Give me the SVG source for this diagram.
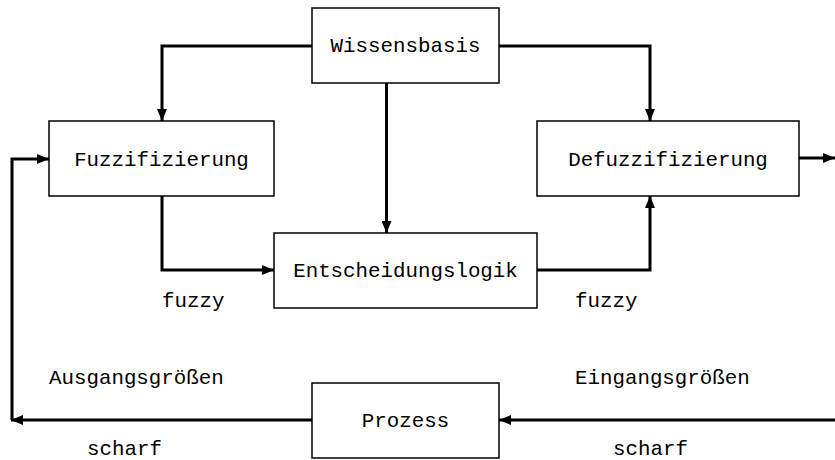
<svg xmlns="http://www.w3.org/2000/svg" width="835" height="460" viewBox="0 0 835 460">
<style>
.box{fill:#fff;stroke:#000;stroke-width:1.5}
.t{font-family:"Liberation Mono","Courier New",monospace;font-size:20.8px;fill:#000}
.m{text-anchor:middle}
.c{fill:none;stroke:#000;stroke-width:3;stroke-linejoin:miter}
</style>
<defs>
<marker id="ah" markerWidth="12" markerHeight="10" refX="12" refY="5" orient="auto" markerUnits="userSpaceOnUse">
<path d="M0,0 L12,5 L0,10 Z" fill="#000"/>
</marker>
</defs>
<g id="connectors">
<path class="c" d="M312,46 H162 V121" marker-end="url(#ah)"/>
<path class="c" d="M499,46 H650 V121" marker-end="url(#ah)"/>
<path class="c" d="M386.5,83 V233" marker-end="url(#ah)"/>
<path class="c" d="M162,196 V270 H274" marker-end="url(#ah)"/>
<path class="c" d="M537,270 H650 V196" marker-end="url(#ah)"/>
<path class="c" d="M799,158 H835" marker-end="url(#ah)"/>
<path class="c" d="M312,420 H11"  marker-end="url(#ah)"/>
<path class="c" d="M12,420 V159 H49" marker-end="url(#ah)"/>
<path class="c" d="M835,420 H499" marker-end="url(#ah)"/>
</g>
<g id="wissensbasis"><rect class="box" x="312" y="8" width="187" height="75"/><text class="t m" x="405.5" y="52">Wissensbasis</text></g>
<g id="fuzzifizierung"><rect class="box" x="49" y="121" width="225" height="75"/><text class="t m" x="161.5" y="166">Fuzzifizierung</text></g>
<g id="defuzzifizierung"><rect class="box" x="537" y="121" width="262" height="75"/><text class="t m" x="668" y="166">Defuzzifizierung</text></g>
<g id="entscheidungslogik"><rect class="box" x="274" y="233" width="263" height="75"/><text class="t m" x="405.5" y="277">Entscheidungslogik</text></g>
<g id="prozess"><rect class="box" x="312" y="383" width="187" height="75"/><text class="t m" x="405.5" y="427">Prozess</text></g>
<g id="labels">
<text class="t" x="162" y="307">fuzzy</text>
<text class="t" x="575" y="307">fuzzy</text>
<text class="t" x="49" y="384">Ausgangsgrößen</text>
<text class="t" x="575" y="384">Eingangsgrößen</text>
<text class="t" x="87" y="455">scharf</text>
<text class="t" x="613" y="455">scharf</text>
</g>
</svg>
